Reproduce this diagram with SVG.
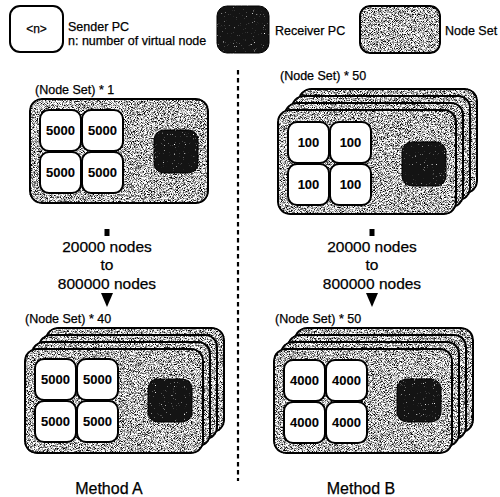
<svg xmlns="http://www.w3.org/2000/svg" width="500" height="497" viewBox="0 0 500 497">
<defs>
<filter id="grain" x="-5%" y="-5%" width="110%" height="110%" color-interpolation-filters="sRGB">
<feTurbulence type="fractalNoise" baseFrequency="1.3" numOctaves="1" seed="7" result="n"/>
<feColorMatrix in="n" type="matrix" values="3.6 0 0 0 -1.08  3.6 0 0 0 -1.08  3.6 0 0 0 -1.08  0 0 0 0 1" result="g"/>
<feBlend in="g" in2="SourceGraphic" mode="multiply" result="m"/>
<feComposite in="m" in2="SourceAlpha" operator="in"/>
</filter>
<filter id="specks" x="-5%" y="-5%" width="110%" height="110%" color-interpolation-filters="sRGB">
<feTurbulence type="fractalNoise" baseFrequency="0.9" numOctaves="1" seed="3" result="n"/>
<feColorMatrix in="n" type="matrix" values="0 0 0 0 1  0 0 0 0 1  0 0 0 0 1  7 0 0 0 -4.7" result="w"/>
<feComposite in="w" in2="SourceAlpha" operator="in" result="wc"/>
<feMerge><feMergeNode in="SourceGraphic"/><feMergeNode in="wc"/></feMerge>
</filter>
<style>
.frame{fill:#fff;stroke:#000;stroke-width:2}
.snd{fill:#fff;stroke:#000;stroke-width:2}
.rcv{fill:#141414;stroke:#000;stroke-width:1}
text{stroke:#000;stroke-width:0.25}
.t{font-family:"Liberation Sans",Arial,sans-serif;fill:#000}
.num{font-family:"Liberation Sans",Arial,sans-serif;font-size:13px;font-weight:bold;text-anchor:middle;fill:#000;stroke-width:0.1}
.lbl{font-family:"Liberation Sans",Arial,sans-serif;font-size:12.5px;fill:#000}
.big{font-family:"Liberation Sans",Arial,sans-serif;font-size:15.5px;text-anchor:middle;fill:#000}
.meth{font-family:"Liberation Sans",Arial,sans-serif;font-size:16px;text-anchor:middle;fill:#000}
</style>
</defs>
<rect x="0" y="0" width="500" height="497" fill="#fff"/>

<g id="legend-sender">
<rect class="snd" x="10" y="6" width="53" height="46" rx="10"/>
<text class="t" x="36.5" y="33" font-size="12" text-anchor="middle">&lt;n&gt;</text>
<text class="t" x="68" y="31" font-size="12.5">Sender PC</text>
<text class="t" x="68" y="45" font-size="12.5">n: number of virtual node</text>
</g>
<g id="legend-receiver">
<rect class="rcv" x="217" y="6" width="52" height="47" rx="10" filter="url(#specks)"/>
<text class="t" x="275" y="35" font-size="12.5">Receiver PC</text>
</g>
<g id="legend-nodeset">
<rect class="frame" x="360" y="6" width="80" height="47" rx="10" filter="url(#grain)"/>
<text class="t" x="445" y="35" font-size="12.5">Node Set</text>
</g>

<g id="divider">
<line x1="238" y1="70" x2="238" y2="481" stroke="#000" stroke-width="2.2" stroke-dasharray="4.5 3.5"/>
</g>

<!-- Method A top -->
<g id="setA1">
<text class="lbl" x="35" y="94">(Node Set) * 1</text>
<g filter="url(#grain)">
<rect class="frame" x="30" y="99" width="178" height="104" rx="12"/>
</g>
<g id="setA1-senders">
<rect class="snd" x="40" y="110" width="41" height="41" rx="9"/>
<rect class="snd" x="82" y="110" width="41" height="41" rx="9"/>
<rect class="snd" x="40" y="152" width="41" height="41" rx="9"/>
<rect class="snd" x="82" y="152" width="41" height="41" rx="9"/>
<text class="num" x="60.5" y="135">5000</text>
<text class="num" x="102.5" y="135">5000</text>
<text class="num" x="60.5" y="177">5000</text>
<text class="num" x="102.5" y="177">5000</text>
</g>
<rect class="rcv" x="154" y="130" width="44" height="43" rx="10" filter="url(#specks)"/>
</g>

<!-- Method B top -->
<g id="setB1">
<text class="lbl" x="280" y="80">(Node Set) * 50</text>
<g filter="url(#grain)">
<rect class="frame" x="299" y="89" width="178" height="104" rx="12"/>
<rect class="frame" x="292" y="96" width="178" height="104" rx="12"/>
<rect class="frame" x="285" y="103" width="178" height="104" rx="12"/>
<rect class="frame" x="278" y="110" width="178" height="104" rx="12"/>
</g>
<g id="setB1-senders">
<rect class="snd" x="288" y="122" width="41" height="41" rx="9"/>
<rect class="snd" x="330" y="122" width="41" height="41" rx="9"/>
<rect class="snd" x="288" y="164" width="41" height="41" rx="9"/>
<rect class="snd" x="330" y="164" width="41" height="41" rx="9"/>
<text class="num" x="308.5" y="147">100</text>
<text class="num" x="350.5" y="147">100</text>
<text class="num" x="308.5" y="189">100</text>
<text class="num" x="350.5" y="189">100</text>
</g>
<rect class="rcv" x="402" y="142" width="44" height="44" rx="10" filter="url(#specks)"/>
</g>

<!-- connectors -->
<g id="connectors">
<g id="arrowA">
<rect x="104.5" y="229" width="5" height="7" fill="#000"/>
<polygon points="101,293 113,293 107,307" fill="#000"/>
</g>
<g id="arrowB">
<rect x="369.5" y="229" width="5" height="7" fill="#000"/>
<polygon points="366,293 378,293 372,307" fill="#000"/>
</g>
</g>
<g id="labelA">
<text class="big" x="107" y="252">20000 nodes</text>
<text class="big" x="107" y="270">to</text>
<text class="big" x="107" y="289">800000 nodes</text>
</g>
<g id="labelB">
<text class="big" x="372" y="252">20000 nodes</text>
<text class="big" x="372" y="270">to</text>
<text class="big" x="372" y="289">800000 nodes</text>
</g>

<!-- Method A bottom -->
<g id="setA2">
<text class="lbl" x="25" y="323">(Node Set) * 40</text>
<g filter="url(#grain)">
<rect class="frame" x="46" y="328" width="178" height="104" rx="12"/>
<rect class="frame" x="39" y="335" width="178" height="104" rx="12"/>
<rect class="frame" x="32" y="342" width="178" height="104" rx="12"/>
<rect class="frame" x="25" y="349" width="178" height="104" rx="12"/>
</g>
<g id="setA2-senders">
<rect class="snd" x="35" y="359" width="41" height="41" rx="9"/>
<rect class="snd" x="77" y="359" width="41" height="41" rx="9"/>
<rect class="snd" x="35" y="401" width="41" height="41" rx="9"/>
<rect class="snd" x="77" y="401" width="41" height="41" rx="9"/>
<text class="num" x="55.5" y="384">5000</text>
<text class="num" x="97.5" y="384">5000</text>
<text class="num" x="55.5" y="426">5000</text>
<text class="num" x="97.5" y="426">5000</text>
</g>
<rect class="rcv" x="148" y="379" width="44" height="43" rx="10" filter="url(#specks)"/>
</g>

<!-- Method B bottom -->
<g id="setB2">
<text class="lbl" x="275" y="323">(Node Set) * 50</text>
<g filter="url(#grain)">
<rect class="frame" x="295" y="328" width="178" height="104" rx="12"/>
<rect class="frame" x="288" y="335" width="178" height="104" rx="12"/>
<rect class="frame" x="281" y="342" width="178" height="104" rx="12"/>
<rect class="frame" x="274" y="349" width="178" height="104" rx="12"/>
</g>
<g id="setB2-senders">
<rect class="snd" x="284" y="360" width="41" height="41" rx="9"/>
<rect class="snd" x="326" y="360" width="41" height="41" rx="9"/>
<rect class="snd" x="284" y="402" width="41" height="41" rx="9"/>
<rect class="snd" x="326" y="402" width="41" height="41" rx="9"/>
<text class="num" x="304.5" y="385">4000</text>
<text class="num" x="346.5" y="385">4000</text>
<text class="num" x="304.5" y="427">4000</text>
<text class="num" x="346.5" y="427">4000</text>
</g>
<rect class="rcv" x="397" y="379" width="44" height="43" rx="10" filter="url(#specks)"/>
</g>

<g id="methodA"><text class="meth" x="109" y="494">Method A</text></g>
<g id="methodB"><text class="meth" x="361" y="494">Method B</text></g>
</svg>
